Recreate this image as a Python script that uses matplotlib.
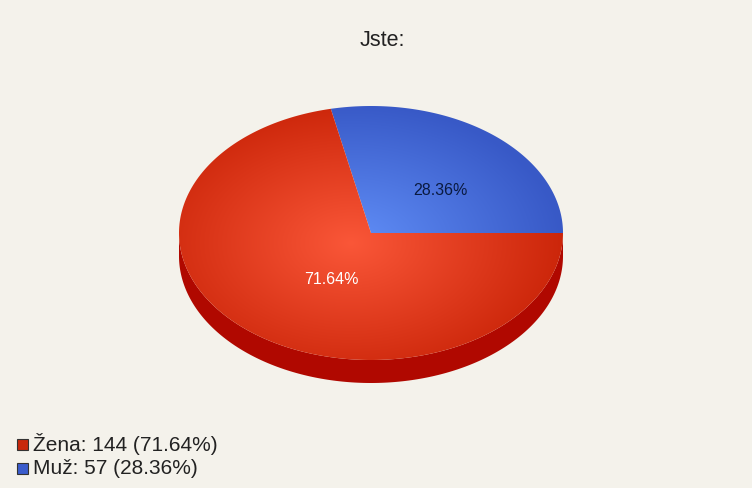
import numpy as np
import matplotlib
matplotlib.use("Agg")
import matplotlib.pyplot as plt
from matplotlib.patches import Polygon, Rectangle

# data
labels = ['Žena', 'Muž']
counts = [144, 57]
title = 'Jste:'

# colours: (light, dark) per slice
light_cols = {'Žena': (0.98, 0.34, 0.22), 'Muž': (0.38, 0.56, 0.97)}
dark_cols = {'Žena': (0.80, 0.15, 0.04), 'Muž': (0.22, 0.35, 0.78)}
legend_cols = {'Žena': '#c8280c', 'Muž': '#3a5ccc'}
side_col = '#b00800'
bg = '#f4f2eb'

W, H = 752, 488
fig = plt.figure(figsize=(W / 100, H / 100), dpi=100, facecolor=bg)
ax = fig.add_axes([0, 0, 1, 1])
ax.axis('off')
ax.set_facecolor(bg)

cx, cy, rx, ry, depth = 371, 233, 192, 127, 23
total = sum(counts)
pcts = [c / total * 100 for c in counts]

# side of the pie (front half, all Žena)
t = np.linspace(np.pi, 2 * np.pi, 200)
xs = cx + rx * np.cos(t)
ys = cy - ry * np.sin(t)
side = np.concatenate([np.c_[xs, ys], np.c_[xs[::-1], ys[::-1] + depth]])
ax.add_patch(Polygon(side, closed=True, fc=side_col, ec='none', zorder=1))

# gradient over pie top
gx = np.linspace(cx - rx, cx + rx, 400)
gy = np.linspace(cy - ry, cy + ry, 270)
GX, GY = np.meshgrid(gx, gy)
dist = np.sqrt(((GX - cx + 20) / rx) ** 2 + ((GY - cy - 10) / ry) ** 2)
dist = np.clip(dist / 1.1, 0, 1)

# slices counter-clockwise from 3 o'clock, Muž first
order = ['Muž', 'Žena']
start = 0.0
for name in order:
    i = labels.index(name)
    span = pcts[i] / 100 * 2 * np.pi
    a = np.linspace(start, start + span, 200)
    pts = np.vstack([[cx, cy], np.c_[cx + rx * np.cos(a), cy - ry * np.sin(a)]])
    wedge = Polygon(pts, closed=True, fc='none', ec='none', zorder=2)
    ax.add_patch(wedge)
    lc = np.array(light_cols[name])
    dc = np.array(dark_cols[name])
    img = lc[None, None, :] * (1 - dist[..., None]) + dc[None, None, :] * dist[..., None]
    im = ax.imshow(img, extent=(cx - rx, cx + rx, cy + ry, cy - ry), zorder=2,
                   interpolation='bilinear', aspect='auto')
    im.set_clip_path(wedge)
    mid = start + span / 2
    lx = cx + 0.45 * rx * np.cos(mid) + 15
    ly = cy - 0.45 * ry * np.sin(mid) + 2
    tc = '#0a1a40' if name == 'Muž' else 'white'
    ax.text(lx, ly, f'{pcts[i]:.2f}%', ha='center', va='center', fontsize=11.5,
            color=tc, family='Liberation Sans', zorder=3)
    start += span

ax.set_xlim(0, W)
ax.set_ylim(H, 0)

ax.text(382, 40, title, ha='center', va='center', fontsize=15.5,
        family='Liberation Sans', color='#222222')

# legend
for k, name in enumerate(labels):
    y = 444 + k * 24
    ax.add_patch(Rectangle((17, y - 5.5), 11, 11, fc=legend_cols[name], ec='#333333', lw=0.8, zorder=3))
    ax.text(33, y, f'{name}: {counts[k]} ({pcts[k]:.2f}%)', ha='left', va='center',
            fontsize=15, family='Liberation Sans', color='#222222')

fig.savefig('out.png', dpi=100, facecolor=bg)
